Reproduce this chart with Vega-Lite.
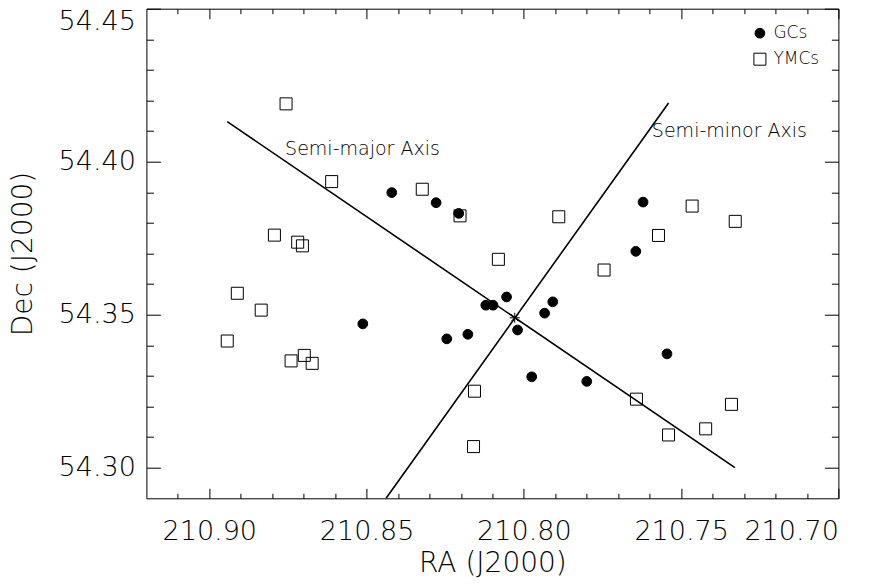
{
  "$schema": "https://vega.github.io/schema/vega-lite/v6.json",
  "width": 692,
  "height": 489.6,
  "autosize": "none",
  "padding": {"left": 146.4, "top": 8.7, "right": 52.6, "bottom": 87.7},
  "background": "white",
  "config": {
    "view": {"stroke": "black", "strokeWidth": 1},
    "font": "DejaVu Sans",
    "axis": {
      "grid": false,
      "domain": false,
      "tickColor": "black",
      "tickWidth": 1,
      "labelColor": "black",
      "labelFont": "DejaVu Sans",
      "labelFontSize": 27,
      "labelFontWeight": 300,
      "labelOverlap": false,
      "labelBound": false,
      "titleColor": "black",
      "titleFont": "DejaVu Sans",
      "titleFontSize": 28,
      "titleFontWeight": 300
    },
    "legend": {
      "title": null,
      "orient": "none",
      "legendX": 605,
      "legendY": 16,
      "labelFontSize": 17,
      "labelFont": "DejaVu Sans",
      "labelFontWeight": 300,
      "labelColor": "black",
      "symbolStrokeColor": "black",
      "symbolStrokeWidth": 1,
      "rowPadding": 8,
      "padding": 0,
      "labelOffset": 5
    }
  },
  "datasets": {
    "pts": [
      {"ra": 210.8756, "dec": 54.4189, "type": "YMCs"},
      {"ra": 210.8611, "dec": 54.3935, "type": "YMCs"},
      {"ra": 210.8323, "dec": 54.3910, "type": "YMCs"},
      {"ra": 210.8793, "dec": 54.3760, "type": "YMCs"},
      {"ra": 210.8719, "dec": 54.3737, "type": "YMCs"},
      {"ra": 210.8704, "dec": 54.3725, "type": "YMCs"},
      {"ra": 210.8911, "dec": 54.3570, "type": "YMCs"},
      {"ra": 210.8835, "dec": 54.3515, "type": "YMCs"},
      {"ra": 210.8943, "dec": 54.3414, "type": "YMCs"},
      {"ra": 210.8740, "dec": 54.3349, "type": "YMCs"},
      {"ra": 210.8698, "dec": 54.3367, "type": "YMCs"},
      {"ra": 210.8673, "dec": 54.3341, "type": "YMCs"},
      {"ra": 210.8203, "dec": 54.3823, "type": "YMCs"},
      {"ra": 210.7889, "dec": 54.3820, "type": "YMCs"},
      {"ra": 210.8081, "dec": 54.3681, "type": "YMCs"},
      {"ra": 210.7745, "dec": 54.3646, "type": "YMCs"},
      {"ra": 210.8157, "dec": 54.3250, "type": "YMCs"},
      {"ra": 210.8160, "dec": 54.3069, "type": "YMCs"},
      {"ra": 210.7465, "dec": 54.3855, "type": "YMCs"},
      {"ra": 210.7328, "dec": 54.3805, "type": "YMCs"},
      {"ra": 210.7572, "dec": 54.3759, "type": "YMCs"},
      {"ra": 210.7642, "dec": 54.3224, "type": "YMCs"},
      {"ra": 210.7340, "dec": 54.3207, "type": "YMCs"},
      {"ra": 210.7422, "dec": 54.3127, "type": "YMCs"},
      {"ra": 210.7540, "dec": 54.3107, "type": "YMCs"},
      {"ra": 210.8420, "dec": 54.3899, "type": "GCs"},
      {"ra": 210.8279, "dec": 54.3866, "type": "GCs"},
      {"ra": 210.8207, "dec": 54.3831, "type": "GCs"},
      {"ra": 210.8512, "dec": 54.3470, "type": "GCs"},
      {"ra": 210.8245, "dec": 54.3421, "type": "GCs"},
      {"ra": 210.8178, "dec": 54.3436, "type": "GCs"},
      {"ra": 210.8121, "dec": 54.3531, "type": "GCs"},
      {"ra": 210.8098, "dec": 54.3531, "type": "GCs"},
      {"ra": 210.8055, "dec": 54.3558, "type": "GCs"},
      {"ra": 210.7908, "dec": 54.3542, "type": "GCs"},
      {"ra": 210.7934, "dec": 54.3505, "type": "GCs"},
      {"ra": 210.8020, "dec": 54.3450, "type": "GCs"},
      {"ra": 210.7975, "dec": 54.3297, "type": "GCs"},
      {"ra": 210.7800, "dec": 54.3282, "type": "GCs"},
      {"ra": 210.7621, "dec": 54.3868, "type": "GCs"},
      {"ra": 210.7644, "dec": 54.3707, "type": "GCs"},
      {"ra": 210.7545, "dec": 54.3372, "type": "GCs"}
    ],
    "axes": [
      {"ra": 210.8943, "dec": 54.4131, "axis": "major", "ord": 0},
      {"ra": 210.7329, "dec": 54.3000, "axis": "major", "ord": 1},
      {"ra": 210.8438, "dec": 54.2900, "axis": "minor", "ord": 0},
      {"ra": 210.7540, "dec": 54.4192, "axis": "minor", "ord": 1}
    ],
    "center": [{"ra": 210.8029, "dec": 54.3490}],
    "notes": [
      {"ra": 210.8759, "dec": 54.4022, "text": "Semi-major Axis"},
      {"ra": 210.7593, "dec": 54.4081, "text": "Semi-minor Axis"}
    ]
  },
  "resolve": {"axis": {"x": "independent", "y": "independent"}},
  "layer": [
    {
      "data": {"name": "axes"},
      "mark": {"type": "line", "color": "black", "strokeWidth": 1.6},
      "encoding": {
        "x": {"field": "ra", "type": "quantitative",
          "scale": {"domain": [210.92, 210.70], "nice": false, "zero": false},
          "axis": {
            "orient": "top", "labels": false, "title": null,
            "values": [210.70,210.71,210.72,210.73,210.74,210.75,210.76,210.77,210.78,210.79,210.80,210.81,210.82,210.83,210.84,210.85,210.86,210.87,210.88,210.89,210.90,210.91],
            "tickSize": {"condition": {"test": "round(datum.value*100) % 5 === 0", "value": -10}, "value": -5}
          }},
        "y": {"field": "dec", "type": "quantitative",
          "scale": {"domain": [54.29, 54.45], "nice": false, "zero": false},
          "axis": {
            "orient": "right", "labels": false, "title": null,
            "values": [54.30,54.31,54.32,54.33,54.34,54.35,54.36,54.37,54.38,54.39,54.40,54.41,54.42,54.43,54.44,54.45],
            "tickSize": {"condition": {"test": "round(datum.value*100) % 5 === 0", "value": -14}, "value": -7}
          }},
        "detail": {"field": "axis"},
        "order": {"field": "ord"}
      }
    },
    {
      "data": {"name": "pts"},
      "mark": {"type": "point", "strokeWidth": 1, "opacity": 1},
      "encoding": {
        "x": {"field": "ra", "type": "quantitative",
          "scale": {"domain": [210.92, 210.70], "nice": false, "zero": false},
          "axis": {
            "orient": "bottom", "title": "RA (J2000)",
            "values": [210.70,210.71,210.72,210.73,210.74,210.75,210.76,210.77,210.78,210.79,210.80,210.81,210.82,210.83,210.84,210.85,210.86,210.87,210.88,210.89,210.90,210.91],
            "labelExpr": "round(datum.value*100) % 5 === 0 ? format(datum.value, '.2f') : ''",
            "tickSize": {"condition": {"test": "round(datum.value*100) % 5 === 0", "value": -10}, "value": -5},
            "labelPadding": 30,
            "titlePadding": 0
          }},
        "y": {"field": "dec", "type": "quantitative",
          "scale": {"domain": [54.29, 54.45], "nice": false, "zero": false},
          "axis": {
            "orient": "left", "title": "Dec (J2000)",
            "values": [54.30,54.31,54.32,54.33,54.34,54.35,54.36,54.37,54.38,54.39,54.40,54.41,54.42,54.43,54.44,54.45],
            "labelExpr": "round(datum.value*100) % 5 === 0 ? format(datum.value, '.2f') : ''",
            "tickSize": {"condition": {"test": "round(datum.value*100) % 5 === 0", "value": -14}, "value": -7},
            "labelPadding": 25,
            "labelFlush": true,
            "titlePadding": 21
          }},
        "shape": {"field": "type", "type": "nominal",
          "scale": {"domain": ["GCs", "YMCs"], "range": ["circle", "square"]}},
        "fill": {"field": "type", "type": "nominal",
          "scale": {"domain": ["GCs", "YMCs"], "range": ["black", "transparent"]}},
        "stroke": {"field": "type", "type": "nominal",
          "scale": {"domain": ["GCs", "YMCs"], "range": ["black", "black"]}},
        "size": {"field": "type", "type": "nominal",
          "scale": {"domain": ["GCs", "YMCs"], "range": [95, 144]}},
        "order": {"field": "type", "sort": "descending"}
      }
    },
    {
      "data": {"name": "center"},
      "mark": {"type": "point", "shape": "M-1,0L1,0M0,-1L0,1M-0.7,-0.7L0.7,0.7M-0.7,0.7L0.7,-0.7", "size": 100, "stroke": "black", "strokeWidth": 1, "filled": false, "opacity": 1},
      "encoding": {
        "x": {"field": "ra", "type": "quantitative", "scale": {"domain": [210.92, 210.70], "nice": false, "zero": false}, "axis": null},
        "y": {"field": "dec", "type": "quantitative", "scale": {"domain": [54.29, 54.45], "nice": false, "zero": false}, "axis": null}
      }
    },
    {
      "data": {"name": "notes"},
      "mark": {"type": "text", "align": "left", "baseline": "alphabetic", "font": "DejaVu Sans", "fontWeight": 300, "fontSize": 19, "color": "black"},
      "encoding": {
        "x": {"field": "ra", "type": "quantitative", "scale": {"domain": [210.92, 210.70], "nice": false, "zero": false}, "axis": null},
        "y": {"field": "dec", "type": "quantitative", "scale": {"domain": [54.29, 54.45], "nice": false, "zero": false}, "axis": null},
        "text": {"field": "text"}
      }
    }
  ]
}
